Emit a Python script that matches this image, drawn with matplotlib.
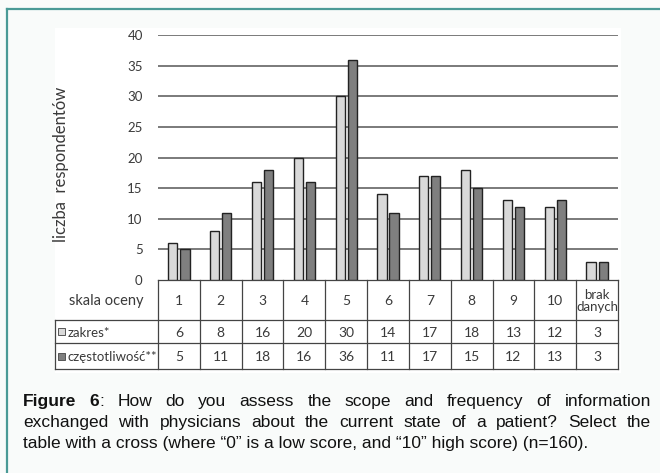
import numpy as np
import matplotlib
matplotlib.use('Agg')
import matplotlib.pyplot as plt
from matplotlib.patches import Rectangle

# data
categories = ['1', '2', '3', '4', '5', '6', '7', '8', '9', '10', 'brak\ndanych']
zakres = [6, 8, 16, 20, 30, 14, 17, 18, 13, 12, 3]
czestotliwosc = [5, 11, 18, 16, 36, 11, 17, 15, 12, 13, 3]
series_names = ['zakres*', 'częstotliwość**']
yticks = [0, 5, 10, 15, 20, 25, 30, 35, 40]

caption_lines = [
    [[('Figure', 'bold')], [('6', 'bold'), (':', 'normal')], 'How', 'do', 'you', 'assess', 'the',
     'scope', 'and', 'frequency', 'of', 'information'],
    ['exchanged', 'with', 'physicians', 'about', 'the', 'current', 'state', 'of', 'a',
     'patient?', 'Select', 'the'],
    'table with a cross (where \u201c0\u201d is a low score, and \u201c10\u201d high score) (n=160).',
]

light = '#d9d9d9'
dark = '#7f7f7f'
txt = '#3a3a3a'
W, H = 660, 473

fig = plt.figure(figsize=(W / 100, H / 100), dpi=100, facecolor='#f9fbfa')

# overlay in pixel coords for frame, table and caption
ov = fig.add_axes([0, 0, 1, 1], zorder=0)
ov.set_xlim(0, W)
ov.set_ylim(H, 0)
ov.axis('off')
ov.add_patch(Rectangle((55, 28), 566, 345, facecolor='white', edgecolor='none'))
ov.plot([7, W], [9, 9], color='#4a9a96', lw=1.6)
ov.plot([7, 7], [9, H], color='#4a9a96', lw=1.6)

# bar chart
x0, x1 = 158, 618
y0, y1 = 280, 35
ax = fig.add_axes([x0 / W, 1 - y0 / H, (x1 - x0) / W, (y0 - y1) / H], zorder=2)
ax.patch.set_alpha(0)
n = len(categories)
xs = np.arange(n)
ax.bar(xs - 0.145, zakres, width=0.22, color=light, edgecolor='#222222', lw=1, zorder=3)
ax.bar(xs + 0.145, czestotliwosc, width=0.22, color=dark, edgecolor='#222222', lw=1, zorder=3)
ax.set_xlim(-0.5, n - 0.5)
ax.set_ylim(0, 40)
ax.set_yticks(yticks)
ax.set_yticklabels([str(v) for v in yticks], fontfamily='Lato', fontsize=9.5, color=txt)
ax.tick_params(axis='y', length=0, pad=11)
ax.set_xticks([])
for v in yticks[1:]:
    ax.axhline(v, color='#7a7a7a', lw=1.4, zorder=1)
for s in ax.spines.values():
    s.set_visible(False)

ov.text(61, 164, 'liczba  respondentów', rotation=90, ha='center', va='center',
        fontfamily='Lato', fontsize=12, color=txt)

# table below the chart
cw = (x1 - x0) / n
r0, r1, r2, r3 = 280, 320, 343, 369
lc = '#444444'
ov.plot([x0, x1], [r0, r0], color=lc, lw=0.9)
ov.plot([55, x1], [r1, r1], color=lc, lw=0.9)
ov.plot([55, x1], [r2, r2], color=lc, lw=0.9)
ov.plot([55, x1], [r3, r3], color=lc, lw=0.9)
ov.plot([55, 55], [r1, r3], color=lc, lw=0.9)
for i in range(n + 1):
    ov.plot([x0 + i * cw] * 2, [r0, r3], color=lc, lw=0.9)
ov.text((55 + x0) / 2, (r0 + r1) / 2 + 1, 'skala oceny', ha='center', va='center',
        fontfamily='Lato', fontsize=10.5, color=txt)
for i, c in enumerate(categories):
    cx = x0 + (i + 0.5) * cw
    ov.text(cx, (r0 + r1) / 2 + 1, c, ha='center', va='center', fontfamily='Lato',
            fontsize=10 if '\n' not in c else 9.5, color=txt, linespacing=1.0)
    ov.text(cx, (r1 + r2) / 2 + 1, str(zakres[i]), ha='center', va='center',
            fontfamily='Lato', fontsize=10, color=txt)
    ov.text(cx, (r2 + r3) / 2 + 1, str(czestotliwosc[i]), ha='center', va='center',
            fontfamily='Lato', fontsize=10, color=txt)
for (ra, rb), name, col in [((r1, r2), series_names[0], light), ((r2, r3), series_names[1], dark)]:
    cy = (ra + rb) / 2
    ov.add_patch(Rectangle((58, cy - 3.5), 7, 7, facecolor=col, edgecolor='#555555', lw=0.7))
    ov.text(68, cy + 1, name, ha='left', va='center', fontfamily='Lato', fontsize=9.5, color=txt)

# justified caption
fig.canvas.draw()
rend = fig.canvas.get_renderer()
cl, cr = 23, 651
baselines = [406, 427, 448]
cap = dict(fontfamily='Liberation Sans', fontsize=12.5, color='#111111', va='baseline')


def put(x, y, s, weight):
    t = ov.text(x, y, s, fontweight=weight, **cap)
    bb = t.get_window_extent(renderer=rend)
    return t, bb.width


for line, yb in zip(caption_lines, baselines):
    if isinstance(line, str):
        ov.text(cl, yb, line, **cap)
        continue
    words = []
    total = 0
    for w in line:
        pieces = w if isinstance(w, list) else [(w, 'normal')]
        items = []
        ww = 0
        for s, wt in pieces:
            t, tw = put(0, yb, s, wt)
            items.append((t, ww))
            ww += tw
        words.append((items, ww))
        total += ww
    gap = (cr - cl - total) / (len(words) - 1)
    x = cl
    for items, ww in words:
        for t, off in items:
            t.set_x(x + off)
        x += ww + gap

fig.savefig('out.png', dpi=100, facecolor=fig.get_facecolor())
